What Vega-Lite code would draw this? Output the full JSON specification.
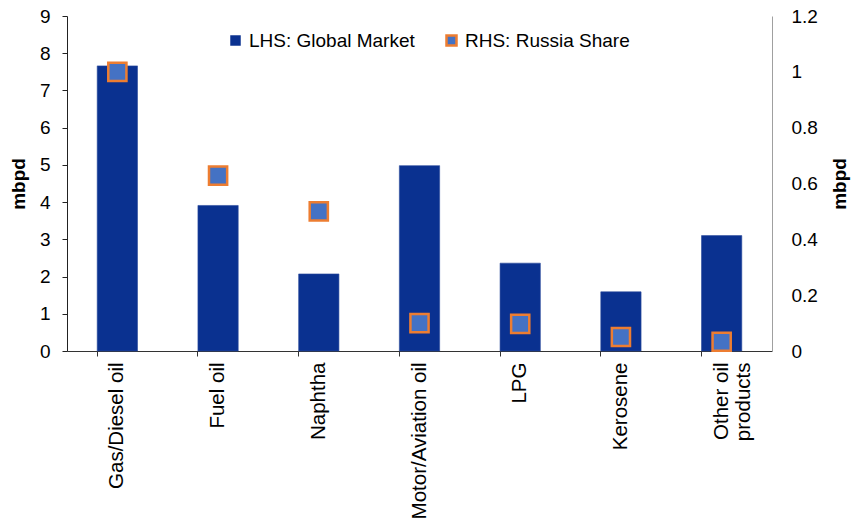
{
  "$schema": "https://vega.github.io/schema/vega-lite/v6.json",
  "width": 705,
  "height": 335,
  "autosize": {"type": "none"},
  "padding": {"left": 67, "top": 16, "right": 82, "bottom": 169},
  "background": "white",
  "config": {
    "view": {"stroke": null},
    "font": "Liberation Sans",
    "axis": {
      "labelFont": "Liberation Sans",
      "labelFontSize": 19,
      "labelColor": "#000000",
      "titleFont": "Liberation Sans",
      "titleFontSize": 19,
      "titleFontWeight": "bold",
      "titleColor": "#000000",
      "grid": false
    },
    "legend": {
      "labelFont": "Liberation Sans",
      "labelFontSize": 19,
      "labelColor": "#000000",
      "labelLimit": 400,
      "padding": 0
    }
  },
  "data": {
    "values": [
      {"product": "Gas/Diesel oil", "global": 7.66, "russia": 1.0},
      {"product": "Fuel oil", "global": 3.91, "russia": 0.628},
      {"product": "Naphtha", "global": 2.07, "russia": 0.5},
      {"product": "Motor/Aviation oil", "global": 4.98, "russia": 0.1},
      {"product": "LPG", "global": 2.36, "russia": 0.097},
      {"product": "Kerosene", "global": 1.59, "russia": 0.05},
      {"product": "Other oil products", "global": 3.1, "russia": 0.033}
    ]
  },
  "encoding": {
    "x": {
      "field": "product",
      "type": "nominal",
      "sort": null,
      "scale": {"paddingInner": 0.6, "paddingOuter": 0.3},
      "axis": {
        "title": null,
        "labelAngle": -90,
        "labelAlign": "right",
        "labelBaseline": "middle",
        "labelPadding": 6,
        "labelFontSize": 20.5,
        "labelLimit": 200,
        "tickSize": 5,
        "bandPosition": 0,
        "domainColor": "#333333",
        "tickColor": "#333333",
        "labelExpr": "datum.label == 'Other oil products' ? ['Other oil', 'products'] : datum.label"
      }
    }
  },
  "layer": [
    {
      "mark": {"type": "bar", "stroke": "#2a4a9c", "strokeWidth": 0.6},
      "encoding": {
        "y": {
          "field": "global",
          "type": "quantitative",
          "scale": {"domain": [0, 9]},
          "axis": {
            "title": "mbpd",
            "values": [0, 1, 2, 3, 4, 5, 6, 7, 8, 9],
            "tickSize": 5,
            "labelPadding": 12,
            "titlePadding": 11,
            "domainColor": "#222222",
            "tickColor": "#222222",
            "format": "~f"
          }
        },
        "fill": {
          "datum": "LHS: Global Market",
          "scale": {"range": ["#0A3190"]},
          "legend": {
            "title": null,
            "orient": "none",
            "legendX": 159,
            "legendY": 15,
            "symbolType": "square",
            "symbolSize": 110,
            "symbolStrokeWidth": 0,
            "labelOffset": 4
          }
        }
      }
    },
    {
      "mark": {
        "type": "point",
        "shape": "square",
        "filled": true,
        "fill": "#4472C4",
        "size": 330,
        "strokeWidth": 2.5,
        "opacity": 1
      },
      "encoding": {
        "y": {
          "field": "russia",
          "type": "quantitative",
          "scale": {"domain": [0, 1.2]},
          "axis": {
            "orient": "right",
            "title": "mbpd",
            "titleAngle": 270,
            "values": [0, 0.2, 0.4, 0.6, 0.8, 1, 1.2],
            "ticks": false,
            "labelPadding": 19,
            "titlePadding": 32,
            "domainColor": "#a0a0a0",
            "format": "~f"
          }
        },
        "stroke": {
          "datum": "RHS: Russia Share",
          "scale": {"range": ["#ED7D31"]},
          "legend": {
            "title": null,
            "orient": "none",
            "legendX": 375,
            "legendY": 15,
            "symbolType": "square",
            "symbolSize": 100,
            "symbolFillColor": "#4472C4",
            "symbolStrokeWidth": 2.5,
            "labelOffset": 4
          }
        }
      }
    }
  ],
  "resolve": {"scale": {"y": "independent"}}
}
